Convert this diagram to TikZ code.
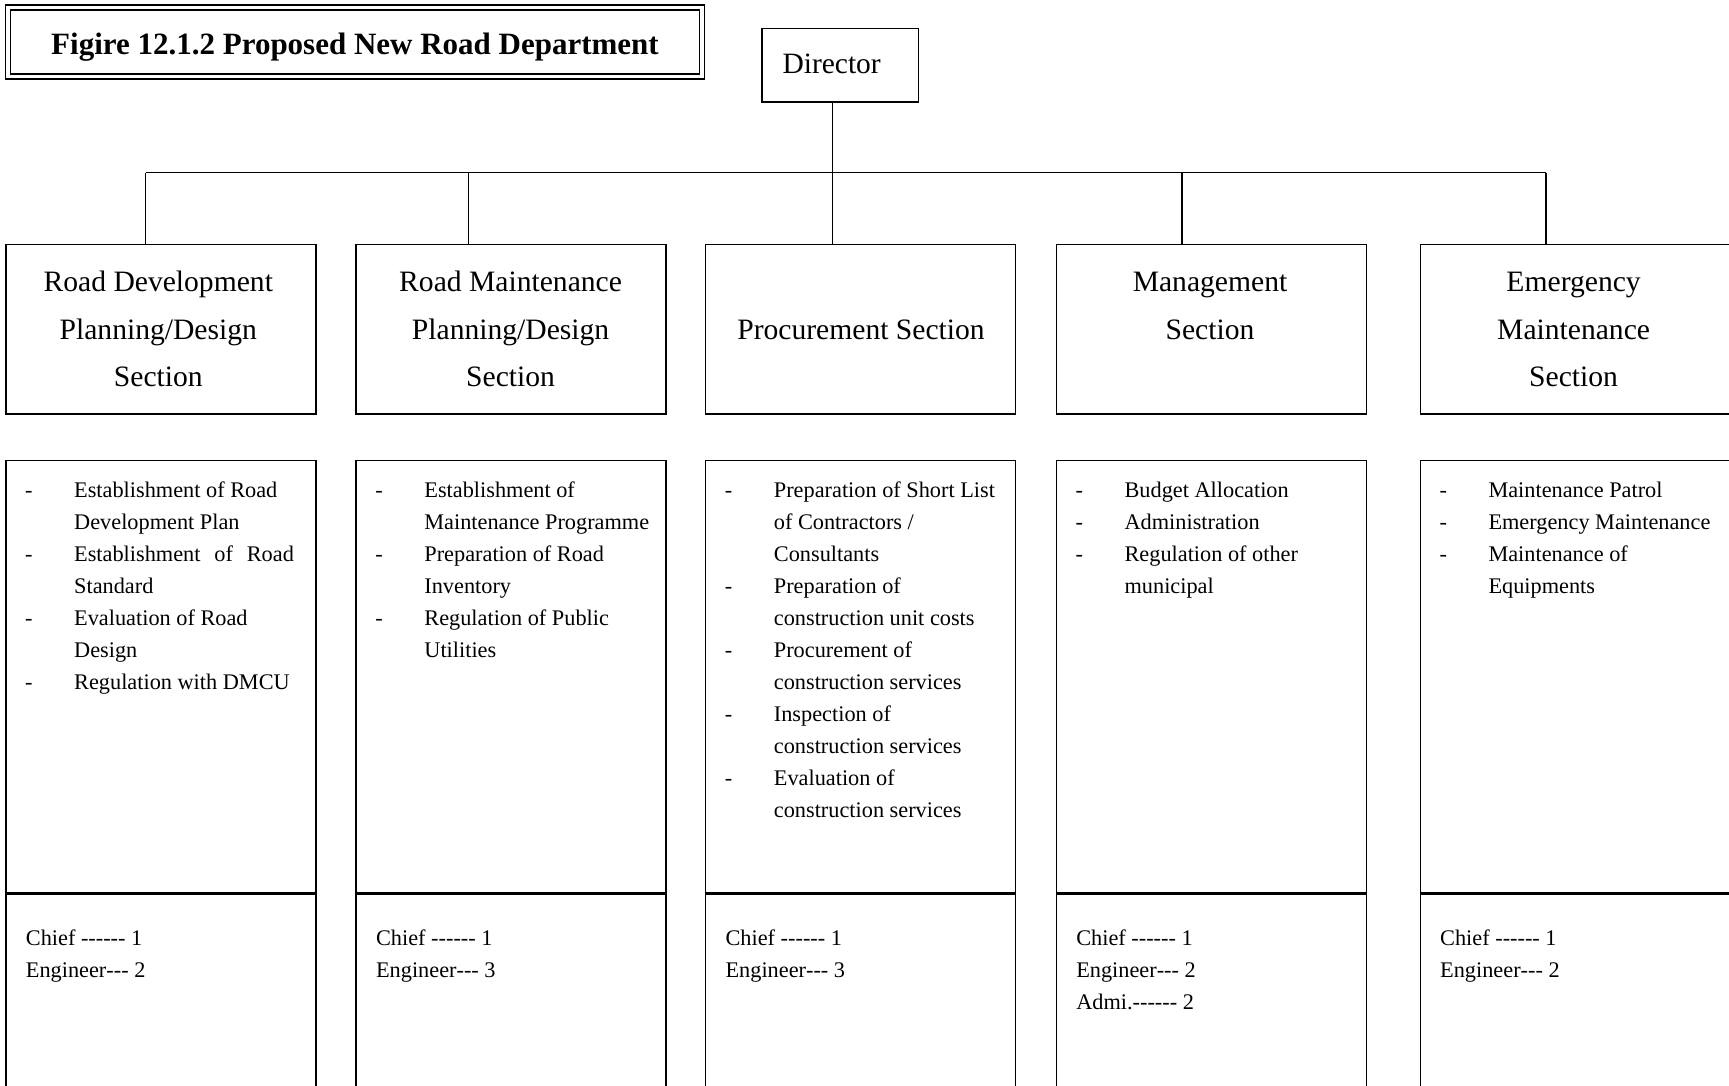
\documentclass[tikz,border=0pt]{standalone}
\usepackage{fontspec}
\setmainfont{Liberation Serif}
\newcommand\hy{\mbox{-}}
\newcommand\bu{\makebox[49pt][l]{-}}
\newcommand\dutylist[1]{\begin{tabular}[t]{@{}l@{}l@{}}#1\end{tabular}}
\newcommand\seclines[1]{\begin{tabular}[t]{@{}c@{}}#1\end{tabular}}
\newcommand\stafflines[1]{\begin{tabular}[t]{@{}l@{}}#1\end{tabular}}
\begin{document}
\begin{tikzpicture}[x=1pt,y=-1pt,
  ln/.style={line width=1.5pt},
  sect/.style={draw, line width=1.5pt, minimum width=310pt, minimum height=169.7pt, inner sep=0pt},
  dutybox/.style={draw, line width=1.5pt, minimum width=310pt, minimum height=431.6pt, inner sep=0pt},
  staffbox/.style={draw, line width=1.5pt, minimum width=310pt, minimum height=202.7pt, inner sep=0pt},
  stitle/.style={anchor=base, inner sep=0pt, font=\fontsize{29.6}{47.5}\selectfont},
  duty/.style={anchor=base west, inner sep=0pt, font=\fontsize{22.3}{32}\selectfont},
  divider/.style={line width=3pt}]
\useasboundingbox (0,0) rectangle (1729,1086);
\clip (0,0) rectangle (1729,1086);
\fill[white] (0,0) rectangle (1729,1086);

% title
\node[draw, double, line width=1.5pt, double distance=3.3pt, minimum width=694pt, minimum height=69pt, inner sep=0pt] (title) at (355,42) {};
\node[anchor=base, inner sep=0pt, font=\fontsize{31}{37}\bfseries\selectfont] (titlet) at (355,54.3) {Figire 12.1.2 Proposed New Road Department};

% director
\node[draw, line width=1.5pt, minimum width=156.3pt, minimum height=73.7pt, inner sep=0pt] (dir) at (840.2,65.2) {};
\node[anchor=base west, inner sep=0pt, font=\fontsize{29.5}{35}\selectfont] (dirt) at (782.3,74) {Director};

% section boxes
\node[sect] (s1) at (161,329.15) {};
\node[sect] (s2) at (511.2,329.15) {};
\node[sect] (s3) at (860.7,329.15) {};
\node[sect] (s4) at (1211.4,329.15) {};
\node[sect] (s5) at (1575.3,329.15) {};

\node[stitle] (s1t) at (158.3,291.7) {\seclines{Road Development\\Planning/Design\\Section}};
\node[stitle] (s2t) at (510.6,291.7) {\seclines{Road Maintenance\\Planning/Design\\Section}};
\node[stitle] (s3t) at (861,339) {\seclines{Procurement Section}};
\node[stitle] (s4t) at (1210,291.7) {\seclines{Management\\Section}};
\node[stitle] (s5t) at (1573.6,291.7) {\seclines{Emergency\\Maintenance\\Section}};

% connectors
\coordinate (j1) at (145.7,172.7);
\coordinate (j2) at (468.6,172.7);
\coordinate (j3) at (832.3,172.7);
\coordinate (j4) at (1182.1,172.7);
\coordinate (j5) at (1546,172.7);
\draw[ln] (j1) -- (j5);
\draw[ln] (dir.south -| j3) -- (j3);
\draw[ln] (j1) -- (s1.north -| j1);
\draw[ln] (j2) -- (s2.north -| j2);
\draw[ln] (j3) -- (s3.north -| j3);
\draw[ln] (j4) -- (s4.north -| j4);
\draw[ln] (j5) -- (s5.north -| j5);

% duty boxes
\node[dutybox] (d1) at (161,676.5) {};
\node[dutybox] (d2) at (511.2,676.5) {};
\node[dutybox] (d3) at (860.7,676.5) {};
\node[dutybox] (d4) at (1211.4,676.5) {};
\node[dutybox] (d5) at (1575.3,676.5) {};

% staff boxes
\node[staffbox] (f1) at (161,993.65) {};
\node[staffbox] (f2) at (511.2,993.65) {};
\node[staffbox] (f3) at (860.7,993.65) {};
\node[staffbox] (f4) at (1211.4,993.65) {};
\node[staffbox] (f5) at (1575.3,993.65) {};

\foreach \i in {1,...,5}{
  \draw[divider] (d\i.south west) -- (d\i.south east);
}

% duty texts
\node[duty] (d1t) at (25,497.3) {\dutylist{\bu & Establishment of Road\\
 & Development Plan\\
 \bu & \makebox[219.7pt][s]{Establishment of Road}\\
 & Standard\\
 \bu & Evaluation of Road\\
 & Design\\
 \bu & Regulation with DMCU}};
\node[duty] (d2t) at (375.2,497.3) {\dutylist{\bu & Establishment of\\
 & Maintenance Programme\\
 \bu & Preparation of Road\\
 & Inventory\\
 \bu & Regulation of Public\\
 & Utilities}};
\node[duty] (d3t) at (724.7,497.3) {\dutylist{\bu & Preparation of Short List\\
 & of Contractors /\\
 & Consultants\\
 \bu & Preparation of\\
 & construction unit costs\\
 \bu & Procurement of\\
 & construction services\\
 \bu & Inspection of\\
 & construction services\\
 \bu & Evaluation of\\
 & construction services}};
\node[duty] (d4t) at (1075.4,497.3) {\dutylist{\bu & Budget Allocation\\
 \bu & Administration\\
 \bu & Regulation of other\\
 & municipal}};
\node[duty] (d5t) at (1439.3,497.3) {\dutylist{\bu & Maintenance Patrol\\
 \bu & Emergency Maintenance\\
 \bu & Maintenance of\\
 & Equipments}};

% staff texts
\node[duty] (f1t) at (25.7,945) {\stafflines{Chief \hy\hy\hy\hy\hy\hy{} 1\\Engineer\hy\hy\hy{} 2}};
\node[duty] (f2t) at (375.9,945) {\stafflines{Chief \hy\hy\hy\hy\hy\hy{} 1\\Engineer\hy\hy\hy{} 3}};
\node[duty] (f3t) at (725.4,945) {\stafflines{Chief \hy\hy\hy\hy\hy\hy{} 1\\Engineer\hy\hy\hy{} 3}};
\node[duty] (f4t) at (1076.1,945) {\stafflines{Chief \hy\hy\hy\hy\hy\hy{} 1\\Engineer\hy\hy\hy{} 2\\Admi.\hy\hy\hy\hy\hy\hy{} 2}};
\node[duty] (f5t) at (1440,945) {\stafflines{Chief \hy\hy\hy\hy\hy\hy{} 1\\Engineer\hy\hy\hy{} 2}};
\end{tikzpicture}
\end{document}
